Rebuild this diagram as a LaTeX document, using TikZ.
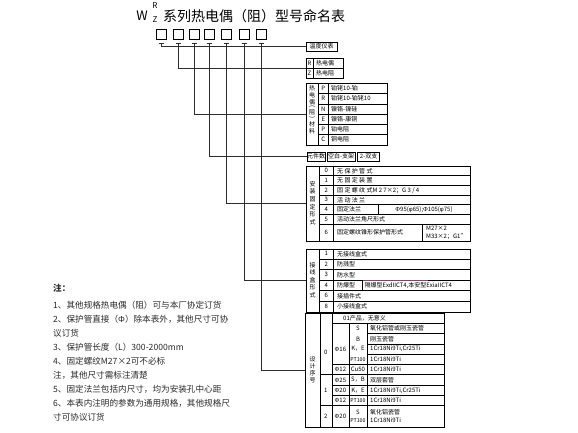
\documentclass[tikz,border=0pt]{standalone}
\usepackage{fontspec}
\setmainfont{Noto Sans CJK SC}
\newfontfamily\latinfont{Liberation Sans}
\newcommand{\PhiL}{{\latinfont Φ}}
\newcommand{\phiL}{{\latinfont φ}}
\newcommand{\ptsmall}{{\fontsize{5.3}{6}\selectfont PT100}}
\usetikzlibrary{positioning, calc}
\definecolor{leadgray}{RGB}{45,45,45}
\definecolor{notegray}{RGB}{40,40,40}
\definecolor{markpurple}{RGB}{140,60,110}
\tikzstyle{lead} = [line width=0.8pt, leadgray]
\tikzstyle{frame} = [draw, line width=0.7pt, inner sep=0pt, anchor=north west]
\tikzstyle{cell} = [font=\fontsize{6}{8}\selectfont, inner sep=0pt]
\tikzstyle{digit} = [draw, line width=0.7pt, minimum size=10pt, inner sep=0pt]
\tikzstyle{note} = [font=\fontsize{8.6}{10}\selectfont, text=notegray, anchor=west, inner sep=0pt]

\begin{document}
\begin{tikzpicture}[x=1pt, y=-1pt]
\useasboundingbox (0,0) rectangle (578,432);

% Title
\node[font=\fontsize{13}{13}\selectfont] (w) at (142,16) {W};
\node[font=\fontsize{8}{8}\selectfont] (r) at (155,6) {R};
\node[font=\fontsize{8}{8}\selectfont] (z) at (155,19.5) {Z};
\node[font=\fontsize{14}{14}\selectfont, anchor=west, inner sep=0pt] (title) at (163,16) {系列热电偶（阻）型号命名表};

% Code boxes with small ticks
\foreach \i/\x in {1/161, 2/178.5, 3/194, 4/209, 5/226, 6/244, 7/261} {
    \node[digit] (b\i) at (\x,34) {};
    \draw[lead] ([xshift=-2.5pt,yshift=-4pt]b\i.south) -- ([xshift=2.5pt,yshift=-4pt]b\i.south);
}

% Table: instrument
\node[frame, cell, minimum width=31pt, minimum height=8.5pt] (inst) at (305.7,42) {温度仪表};

% Table: R / Z
\node[frame, minimum width=37.3pt, minimum height=20pt] (rz) at (305.7,58.3) {};
\draw (313.3,58.3) -- (313.3,78.3);
\draw (305.7,68.3) -- (343,68.3);
\foreach \k/\t [count=\j from 0] in {R/热电偶, Z/热电阻} {
    \node[cell] at (309.5,63.3+\j*10) {\k};
    \node[cell, anchor=west] at (316,63.3+\j*10) {\t};
}

% Table: material
\node[frame, minimum width=80.7pt, minimum height=61.4pt] (mat) at (306,83.3) {};
\draw (318.3,83.3) -- (318.3,144.7);
\draw (328.3,83.3) -- (328.3,144.7);
\foreach \j in {1,...,5}
    \draw (318.3,83.3+\j*10.23) -- (386.7,83.3+\j*10.23);
\foreach \k/\t [count=\j from 0] in {P/铂铑10-铂, R/铂铑10-铂铑10, N/镍铬-镍硅, E/镍铬-康铜, P/铂电阻, C/铜电阻} {
    \node[cell] at (323.3,88.4+\j*10.23) {\k};
    \node[cell, anchor=west] at (331,88.4+\j*10.23) {\t};
}
\foreach \c/\y in {热/88, 电/95, 偶/102, 阻/112.5, 材/124, 料/131}
    \node[cell] at (312.2,\y) {\c};
\node[cell, rotate=-90] (lp) at (312.2,107) {(};
\node[cell, rotate=-90] (rp) at (312.2,118) {)};

% Table: element count
\node[frame, cell, minimum width=18.3pt, minimum height=9pt] (cnt) at (306.7,151.7) {元件数};
\node[frame, cell, minimum width=28.3pt, minimum height=9pt] (cnta) at (326.7,151.7) {空白-支架};
\node[frame, cell, minimum width=22pt, minimum height=9pt] (cntb) at (357.3,151.7) {2-双支};

% Table: mounting
\node[frame, minimum width=164pt, minimum height=75pt] (fix) at (306,166) {};
\draw (319.3,166) -- (319.3,241);
\draw (333.3,166) -- (333.3,241);
\foreach \j in {1,...,6}
    \draw (319.3,166+\j*9.65) -- (470,166+\j*9.65);
\draw (378.3,204.6) -- (378.3,214.3);
\draw (421.7,223.9) -- (421.7,241);
\foreach \t [count=\j from 0] in {无 保 护 管 式, 无 固 定 装 置, 固 定 螺 纹 式M 2 7×2；G 3 / 4, 活 动 法 兰, 固定法兰, 活动法兰角尺形式} {
    \node[cell] at (326.3,170.8+\j*9.65) {\j};
    \node[cell, anchor=west] at (337,170.8+\j*9.65) {\t};
}
\node[cell] at (424,209.4) {\PhiL 95(\phiL 65);\PhiL 105(\phiL 75)};
\node[cell] at (326.3,232.5) {6};
\node[cell, anchor=west] at (337,232.5) {固定螺纹锥形保护管形式};
\node[cell, anchor=west, align=left] at (426,232.5) {M27×2\\M33×2；G1"};
\foreach \c [count=\j from 0] in {安,装,固,定,形,式}
    \node[cell] at (312.5,184+\j*7.6) {\c};

% Table: terminal box
\node[frame, minimum width=164pt, minimum height=63pt] (box) at (306,248.5) {};
\draw (319.3,248.5) -- (319.3,311.5);
\draw (333.3,248.5) -- (333.3,311.5);
\foreach \j in {1,2,4,5}
    \draw (319.3,248.5+\j*10.5) -- (470,248.5+\j*10.5);
\draw (319.3,280) -- (361.7,280);
\draw[markpurple, line width=0.8pt] (361.7,280) -- (428,280);
\draw (428,280) -- (470,280);
\draw (361.7,280) -- (361.7,290.5);
\foreach \n/\t [count=\j from 0] in {1/无接线盒式, 2/防溅型, 3/防水型, 4/防爆型, 6/接插件式, 8/小接线盒式} {
    \node[cell] at (326.3,253.8+\j*10.5) {\n};
    \node[cell, anchor=west] at (337,253.8+\j*10.5) {\t};
}
\node[cell, anchor=west] at (364.5,285.3) {隔爆型ExdIICT4,本安型ExiaIICT4};
\foreach \c [count=\j from 0] in {接,线,盒,形,式}
    \node[cell] at (312.5,265+\j*7.5) {\c};

% Table: design number
\node[frame, minimum width=139pt, minimum height=113.5pt] (des) at (305,313) {};
\draw (320,313) -- (320,426.5);
\draw (331.7,313) -- (331.7,426.5);
\draw (349,323.3) -- (349,426.5);
\draw (367,323.3) -- (367,426.5);
\draw (331.7,323.3) -- (444,323.3);
\foreach \y in {333.6, 343.9, 354.2}
    \draw (367,\y) -- (444,\y);
\foreach \y in {364.5, 385.1, 395.4}
    \draw (331.7,\y) -- (444,\y);
\draw[line width=1pt] (320,374.8) -- (444,374.8);
\draw[line width=1pt] (320,405.7) -- (444,405.7);
\node[cell, anchor=west] at (343,318.2) {01产品，无意义};
\foreach \s/\t [count=\j from 1] in {S/氧化铝管或刚玉瓷管, B/刚玉瓷管, {K，E}/{1Cr18Ni9Ti,Cr25Ti}, \ptsmall/1Cr18Ni9Ti, Cu50/1Cr18Ni9Ti, {S，B}/双层套管, {K，E}/{1Cr18Ni9Ti,Cr25Ti}, \ptsmall/1Cr18Ni9Ti} {
    \node[cell] at (358,318.2+\j*10.3) {\s};
    \node[cell, anchor=west] at (370,318.2+\j*10.3) {\t};
}
\foreach \d/\y in {16/349.1, 12/369.7, 25/380, 20/390.3, 12/400.6, 20/416.1}
    \node[cell] at (340.4,\y) {\PhiL\d};
\node[cell, align=center] at (358,416.1) {S\\\ptsmall};
\node[cell, anchor=west, align=left] at (370,416.1) {氧化铝瓷管\\1Cr18Ni9Ti};
\foreach \n/\y in {0/352, 1/390.3, 2/416.1}
    \node[cell] at (325.9,\y) {\n};
\foreach \c [count=\j from 0] in {设,计,序,号}
    \node[cell] at (312.5,359+\j*7.2) {\c};

% Leads from code boxes to tables
\draw[lead] ([yshift=-4pt]b1.south) |- (inst.west);
\draw[lead] ([yshift=-4pt]b2.south) |- (rz.west);
\draw[lead] ([yshift=-4pt]b3.south) |- (mat.west);
\draw[lead] ([yshift=-4pt]b4.south) |- (cnt.west);
\draw[lead] ([yshift=-4pt]b5.south) |- (fix.west);
\draw[lead] ([yshift=-4pt]b6.south) |- (box.west);
\draw[lead] ([yshift=-4pt]b7.south) |- (des.west);

% Notes
\node[note, font=\fontsize{8.6}{10}\selectfont\bfseries] (notes) at (53,288.3) {注：};
\foreach \t [count=\j from 0] in {1、其他规格热电偶（阻）可与本厂协定订货, 2、保护管直接（\PhiL）除本表外，其他尺寸可协, 议订货, 3、保护管长度（L）300-2000mm, 4、固定螺纹M27×2可不必标, 注，其他尺寸需标注清楚, 5、固定法兰包括内尺寸，均为安装孔中心距, 6、本表内注明的参数为通用规格，其他规格尺, 寸可协议订货}
    \node[note] at (53,305+\j*14) {\t};
\end{tikzpicture}
\end{document}
